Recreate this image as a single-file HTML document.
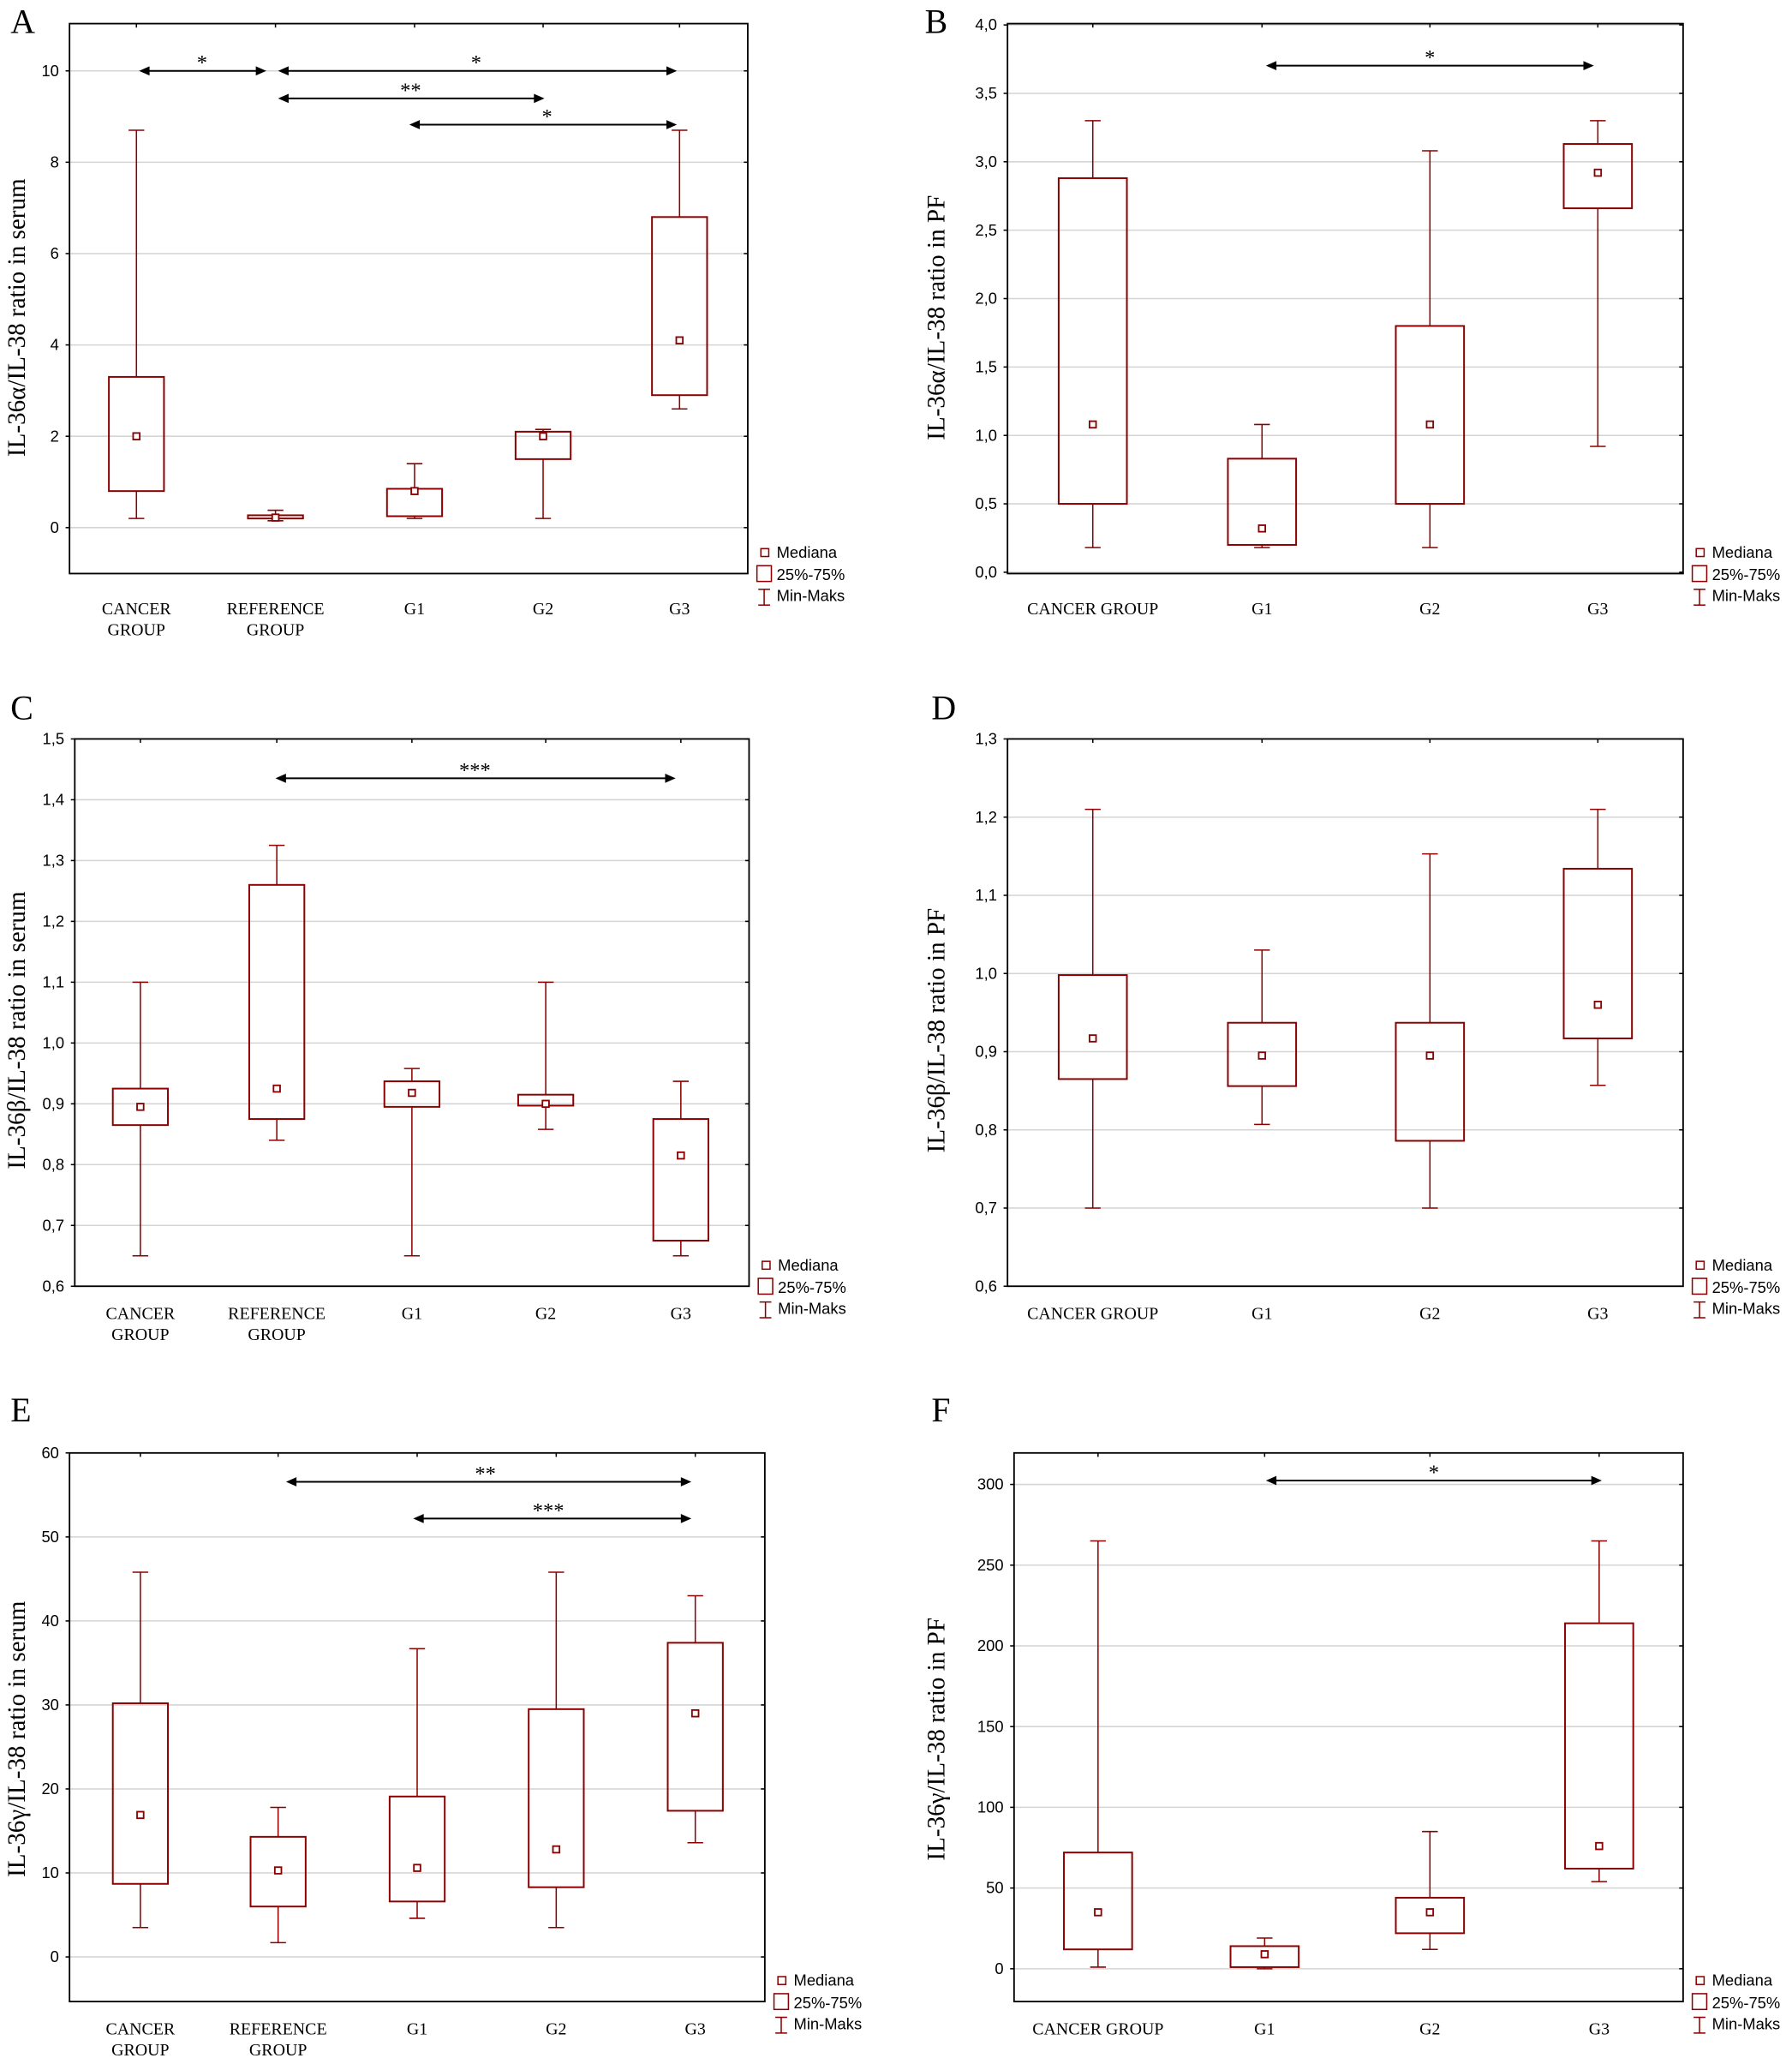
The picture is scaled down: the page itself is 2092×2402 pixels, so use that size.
<!DOCTYPE html>
<html><head><meta charset="utf-8">
<style>html,body{margin:0;padding:0;background:#fff}svg{display:block}</style>
</head><body>
<svg id="s" width="2092" height="2402" viewBox="0 0 1366 1568" preserveAspectRatio="none" xmlns="http://www.w3.org/2000/svg"></svg>
<script>
const C='#8b0000';
let out='';
function t(x,y,s,o){o=o||{};out+=`<text x="${x}" y="${y}" font-family="${o.f||'Liberation Sans, sans-serif'}" font-size="${o.fs||12}" text-anchor="${o.a||'start'}" ${o.r?`transform="rotate(-90 ${x} ${y})"`:''} fill="#000">${s}</text>`;}
function l(x1,y1,x2,y2,c,w){out+=`<line x1="${x1}" y1="${y1}" x2="${x2}" y2="${y2}" stroke="${c||'#000'}" stroke-width="${w||1}"/>`;}
function panel(p){
 const Y=v=>p.y0+(v-p.v0)*(p.y1-p.y0)/(p.v1-p.v0);
 p.ticks.forEach(([v,s])=>{const y=Y(v);l(p.L,y,p.R,y,'#d4d4d4',1);l(p.L-3,y,p.L,y,'#000',1);l(p.R-3,y,p.R,y,'#000',1);t(p.L-8,y+4,s,{a:'end'});});
 out+=`<rect x="${p.L}" y="${p.T}" width="${p.R-p.L}" height="${p.B-p.T}" fill="none" stroke="#000" stroke-width="1.2"/>`;
 p.g.forEach((d,i)=>{const x=p.gx[i],w=p.bw/2;
  l(x,p.T,x,p.T+3,'#000',1);
  l(x,Y(d[0]),x,Y(d[1]),C);l(x,Y(d[3]),x,Y(d[4]),C);
  l(x-6,Y(d[0]),x+6,Y(d[0]),C);l(x-6,Y(d[4]),x+6,Y(d[4]),C);
  out+=`<rect x="${x-w}" y="${Y(d[3])}" width="${p.bw}" height="${Y(d[1])-Y(d[3])}" fill="none" stroke="${C}" stroke-width="1.3"/>`;
  out+=`<rect x="${x-2.5}" y="${Y(d[2])-2.5}" width="5" height="5" fill="#fff" stroke="${C}" stroke-width="1.2"/>`;
  const lab=p.lab[i].split('|');lab.forEach((s,k)=>t(x,p.B+p.lo+k*16,s,{a:'middle',f:'Liberation Serif, serif',fs:13}));
 });
 (p.arr||[]).forEach(([y,x1,x2,s,sx])=>{l(x1+2,y,x2-2,y,'#000',1.3);
  out+=`<path d="M${x1} ${y} l8 -3.5 v7z M${x2} ${y} l-8 -3.5 v7z" fill="#000"/>`;t(sx,y-1,s,{a:'middle',f:'Liberation Serif, serif',fs:16});});
 const lx=p.R+7,ly=p.B-16;
 out+=`<rect x="${lx+3}" y="${ly-3}" width="6" height="6" fill="#fff" stroke="${C}"/>`;t(lx+15,ly+4,'Mediana');
 out+=`<rect x="${lx}" y="${ly+10}" width="11" height="12" fill="#fff" stroke="${C}"/>`;t(lx+15,ly+21,'25%-75%');
 l(lx+5.5,ly+28,lx+5.5,ly+40,C);l(lx+1,ly+28,lx+10,ly+28,C);l(lx+1,ly+40,lx+10,ly+40,C);t(lx+15,ly+37,'Min-Maks');
 t(p.yl[0],p.yl[1],p.ylab,{r:1,a:'middle',f:'Liberation Serif, serif',fs:19});
 t(p.let[0],p.let[1],p.let[2],{f:'Liberation Serif, serif',fs:26});
}
const labs5=['CANCER|GROUP','REFERENCE|GROUP','G1','G2','G3'],labs4=['CANCER GROUP','G1','G2','G3'];
const rng=(a,b,s,f)=>{let r=[];for(let v=a;v<=b+1e-9;v+=s)r.push([v,f(v)]);return r;};
const cm=d=>v=>v.toFixed(d).replace('.',',');
panel({L:53,R:570,T:18,B:437,lo:31,v0:0,v1:10,y0:402,y1:54,ticks:rng(0,10,2,v=>v),gx:[104,210,316,414,518],bw:42,lab:labs5,
 g:[[0.2,0.8,2,3.3,8.7],[0.15,0.2,0.22,0.27,0.38],[0.2,0.25,0.8,0.85,1.4],[0.2,1.5,2,2.1,2.15],[2.6,2.9,4.1,6.8,8.7]],
 arr:[[54,106,203,'*',154],[54,212,516,'*',363],[75,212,415,'**',313],[95,312,516,'*',417]],
 yl:[19,242],ylab:'IL-36α/IL-38 ratio in serum',let:[8,25,'A']});
panel({L:768,R:1283,T:18,B:437,lo:31,v0:0,v1:4,y0:436,y1:19,ticks:rng(0,4,0.5,cm(1)),gx:[833,962,1090,1218],bw:52,lab:labs4,
 g:[[0.18,0.5,1.08,2.88,3.3],[0.18,0.2,0.32,0.83,1.08],[0.18,0.5,1.08,1.8,3.08],[0.92,2.66,2.92,3.13,3.3]],
 arr:[[50,965,1215,'*',1090]],yl:[720,242],ylab:'IL-36α/IL-38 ratio in PF',let:[705,25,'B']});
panel({L:57,R:571,T:563,B:980,lo:25,v0:0.6,v1:1.5,y0:980,y1:563,ticks:rng(0.6,1.5,0.1,cm(1)),gx:[107,211,314,416,519],bw:42,lab:labs5,
 g:[[0.65,0.865,0.895,0.925,1.1],[0.84,0.875,0.925,1.26,1.325],[0.65,0.895,0.918,0.937,0.958],[0.858,0.897,0.9,0.915,1.1],[0.65,0.675,0.815,0.875,0.937]],
 arr:[[593,210,515,'***',362]],yl:[19,785],ylab:'IL-36β/IL-38 ratio in serum',let:[8,548,'C']});
panel({L:768,R:1283,T:563,B:980,lo:25,v0:0.6,v1:1.3,y0:980,y1:563,ticks:rng(0.6,1.3,0.1,cm(1)),gx:[833,962,1090,1218],bw:52,lab:labs4,
 g:[[0.7,0.865,0.917,0.998,1.21],[0.807,0.856,0.895,0.937,1.03],[0.7,0.786,0.895,0.937,1.153],[0.857,0.917,0.96,1.134,1.21]],
 yl:[720,785],ylab:'IL-36β/IL-38 ratio in PF',let:[710,548,'D']});
panel({L:53,R:583,T:1107,B:1525,lo:25,v0:0,v1:60,y0:1491,y1:1107,ticks:rng(0,60,10,v=>v),gx:[107,212,318,424,530],bw:42,lab:labs5,
 g:[[3.5,8.7,16.9,30.2,45.8],[1.7,6,10.3,14.3,17.8],[4.6,6.6,10.6,19.1,36.7],[3.5,8.3,12.8,29.5,45.8],[13.6,17.4,29,37.4,43]],
 arr:[[1129,218,527,'**',370],[1157,315,527,'***',418]],yl:[19,1325],ylab:'IL-36γ/IL-38 ratio in serum',let:[8,1083,'E']});
panel({L:773,R:1283,T:1107,B:1525,lo:25,v0:0,v1:300,y0:1500,y1:1131,ticks:rng(0,300,50,v=>v),gx:[837,964,1090,1219],bw:52,lab:labs4,
 g:[[1,12,35,72,265],[0,1,9,14,19],[12,22,35,44,85],[54,62,76,214,265]],
 arr:[[1128,965,1221,'*',1093]],yl:[720,1325],ylab:'IL-36γ/IL-38 ratio in PF',let:[710,1083,'F']});
document.getElementById('s').innerHTML=out;
</script>
</body></html>
